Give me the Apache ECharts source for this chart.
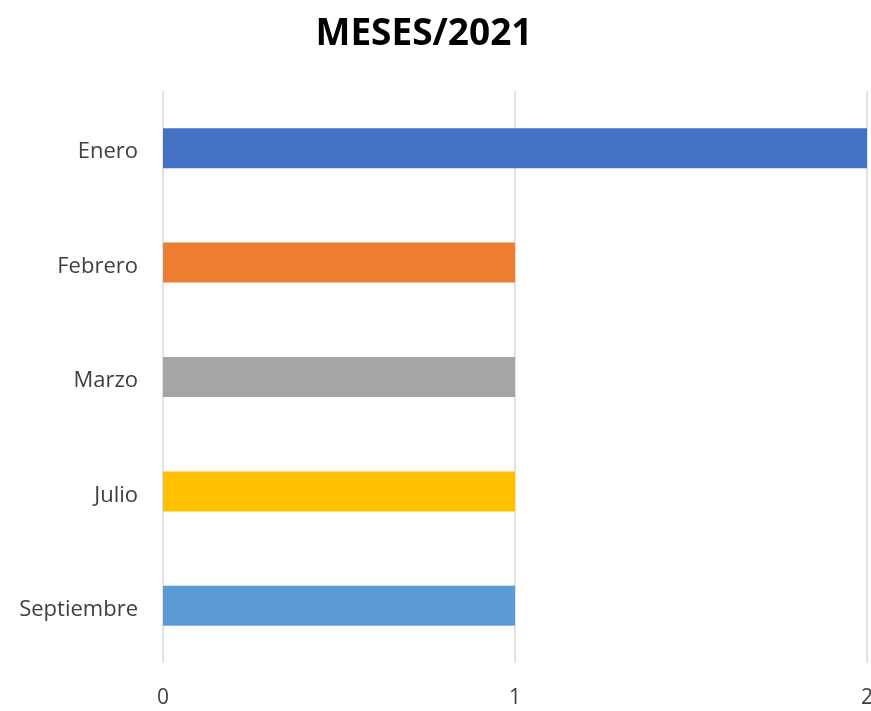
<!DOCTYPE html>
<html><head><meta charset="utf-8">
<script src="https://cdn.jsdelivr.net/npm/echarts@6/dist/echarts.min.js"></script>
<style>html,body{margin:0;padding:0;background:#fff}#c{width:871px;height:711px}</style>
</head><body><div id="c"></div>
<script>
var categories = ['Enero', 'Febrero', 'Marzo', 'Julio', 'Septiembre'];
var values = [2, 1, 1, 1, 1];
var colors = ['#4472C4', '#ED7D31', '#A5A5A5', '#FFC000', '#5B9BD5'];
var xTicks = [0, 1, 2];

var chart = echarts.init(document.getElementById('c'));
chart.setOption({
  animation: false,
  title: {
    text: 'MESES/2021', left: 419, top: 11, textAlign: 'center',
    textStyle: { fontFamily: 'Open Sans', fontWeight: 'bold', fontSize: 37, color: '#000' }
  },
  grid: { left: 163, right: 4, top: 91, bottom: 48, containLabel: false, outerBoundsMode: 'none' },
  xAxis: {
    type: 'value', min: xTicks[0], max: xTicks[xTicks.length - 1], interval: 1,
    axisLine: { show: false }, axisTick: { show: false },
    splitLine: { show: true, lineStyle: { color: '#d9d9d9', width: 1.5 } },
    axisLabel: { margin: 25, fontFamily: 'Open Sans', fontSize: 21, color: '#404040', hideOverlap: false }
  },
  yAxis: {
    type: 'category', data: categories, inverse: true,
    axisLine: { show: false }, axisTick: { show: false },
    axisLabel: {
      margin: 25, fontFamily: 'Open Sans', fontSize: 22, color: '#404040',
      formatter: function (v) { return '{a|' + v + '}'; },
      rich: { a: { fontFamily: 'Open Sans', fontSize: 22, color: '#404040', padding: [8, 0, 0, 0] } }
    }
  },
  series: [{
    type: 'bar', barWidth: 40,
    data: values.map(function (v, i) { return { value: v, itemStyle: { color: colors[i] } }; })
  }]
});
</script></body></html>
